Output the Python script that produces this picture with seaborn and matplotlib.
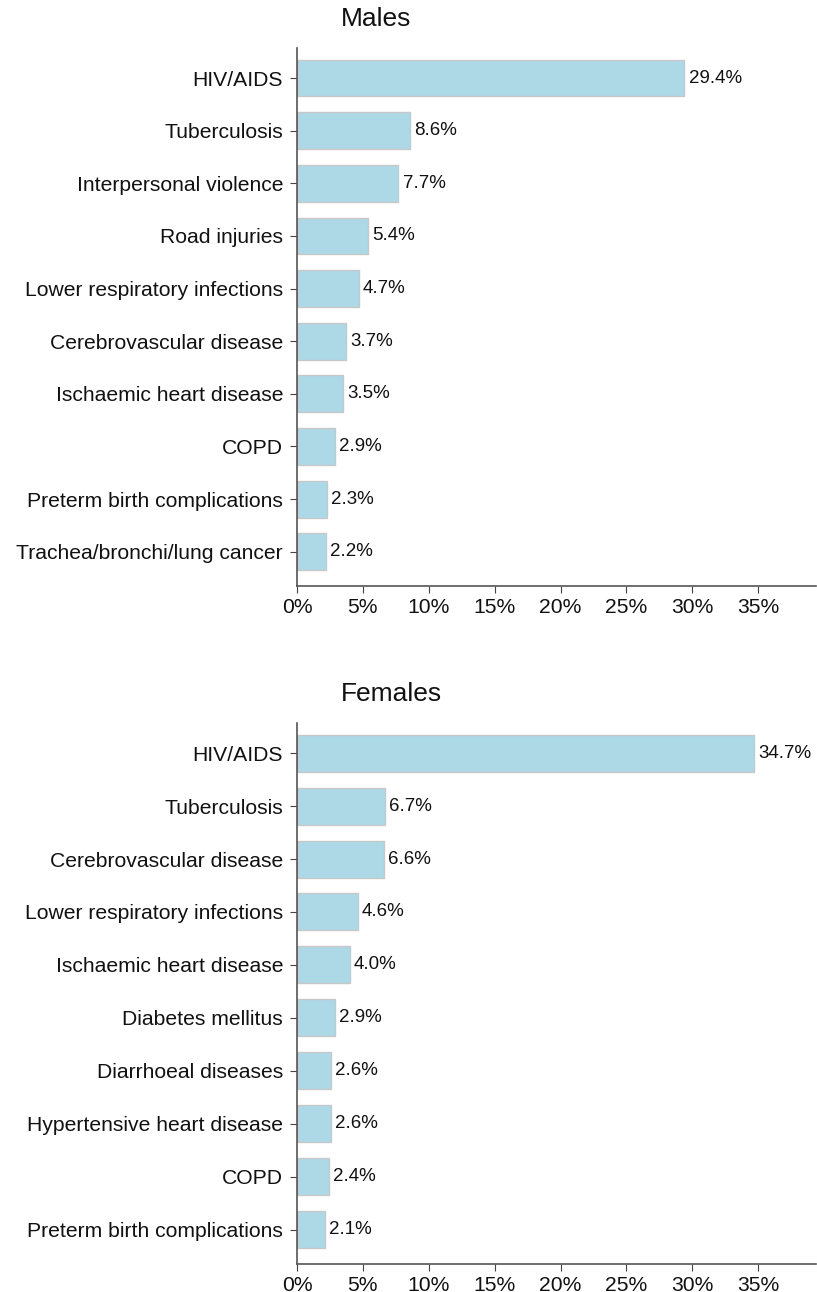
import seaborn as sns
import pandas as pd
import matplotlib.pyplot as plt
import matplotlib.ticker as mtick

male_causes = ["HIV/AIDS", "Tuberculosis", "Interpersonal violence", "Road injuries",
               "Lower respiratory infections", "Cerebrovascular disease",
               "Ischaemic heart disease", "COPD", "Preterm birth complications",
               "Trachea/bronchi/lung cancer"]
male_pct = [29.4, 8.6, 7.7, 5.4, 4.7, 3.7, 3.5, 2.9, 2.3, 2.2]

female_causes = ["HIV/AIDS", "Tuberculosis", "Cerebrovascular disease",
                 "Lower respiratory infections", "Ischaemic heart disease",
                 "Diabetes mellitus", "Diarrhoeal diseases", "Hypertensive heart disease",
                 "COPD", "Preterm birth complications"]
female_pct = [34.7, 6.7, 6.6, 4.6, 4.0, 2.9, 2.6, 2.6, 2.4, 2.1]

xticks = [0, 5, 10, 15, 20, 25, 30, 35]

sns.set_style("ticks")
plt.rcParams['font.family'] = ['Liberation Sans', 'DejaVu Sans']

fig = plt.figure(figsize=(8.17, 12.92), dpi=100)
ax1 = fig.add_axes([0.3635, 0.5465, 0.6355, 0.4163])
ax2 = fig.add_axes([0.3635, 0.0217, 0.6355, 0.4187])

panels = [(ax1, "Males", male_causes, male_pct),
          (ax2, "Females", female_causes, female_pct)]

for ax, title, causes, pct in panels:
    df = pd.DataFrame({"cause": causes, "pct": pct})
    sns.barplot(data=df, x="pct", y="cause", ax=ax, color="lightblue",
                saturation=1, edgecolor="#c8c8c8", linewidth=1, width=0.7)
    ax.bar_label(ax.containers[0], labels=[f"{v:.1f}%" for v in pct],
                 padding=3, fontsize=13.5, color="#111111")
    ax.set_xlim(0, 39.4)
    ax.set_ylim(9.65, -0.57)
    ax.set_xticks(xticks)
    ax.xaxis.set_major_formatter(mtick.FuncFormatter(lambda v, p: f"{v:.0f}%"))
    ax.set_xlabel("")
    ax.set_ylabel("")
    ax.tick_params(axis="both", labelsize=15.2, length=5, color="#444444",
                   labelcolor="#111111")
    ax.tick_params(axis="y", pad=5)
    for s in ["top", "right"]:
        ax.spines[s].set_visible(False)
    for s in ["left", "bottom"]:
        ax.spines[s].set_color("#555555")
        ax.spines[s].set_linewidth(1.2)
    ax.set_title(title, fontsize=19, loc="left", x=0.085, pad=16, color="#111111")

plt.savefig("out.png", dpi=100)
